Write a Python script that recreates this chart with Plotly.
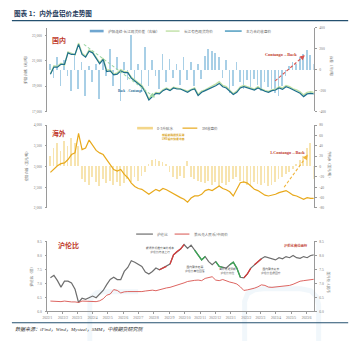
import pandas as pd
import plotly.graph_objects as go

W, H = 361, 344

# ---------------- data (weekly closes, Jan 2022 - Jun 2023) ----------------
WEEK_START = "2022-01-07"
N_WEEKS = 76

MONTH_LABELS = ["2022/1", "2022/2", "2022/3", "2022/4", "2022/5", "2022/6",
                "2022/7", "2022/8", "2022/9", "2022/10", "2022/11", "2022/12",
                "2023/1", "2023/2", "2023/3", "2023/4", "2023/5", "2023/6"]

# SHFE aluminium main contract close (CNY/t)
shfe_main = [19940, 20510, 20500, 20720, 20720, 21630, 21500, 21500, 22300, 21500,
             21290, 21760, 21630, 21190, 20770, 21110, 20150, 20200, 19890, 19940,
             20200, 20070, 20070, 19630, 19420, 19160, 18950, 18510, 17910, 18170,
             18430, 18380, 18640, 18770, 18640, 18850, 18770, 18770, 18640, 18510,
             18690, 18770, 18250, 18510, 18640, 18770, 18850, 19030, 19210, 18950,
             18850, 18590, 18330, 18510, 18850, 18950, 18850, 18770, 18690, 18850,
             18690, 18590, 18510, 18640, 18690, 18850, 18740, 18950, 18850, 18690,
             18590, 18430, 18170, 18380, 18430, 18380]

# Changjiang spot average (CNY/t)
cj_spot = [19980, 20600, 20560, 20800, 20650, 21700, 21580, 21450, 22400, 21600,
           21350, 21850, 21700, 21250, 20850, 21200, 20250, 20300, 19950, 20050,
           20300, 20150, 20100, 19700, 19500, 19250, 19050, 18600, 18000, 18250,
           18500, 18450, 18700, 18850, 18700, 18900, 18850, 18800, 18700, 18600,
           18750, 18850, 18350, 18600, 18700, 18850, 18950, 19150, 19350, 19050,
           18950, 18650, 18400, 18600, 18950, 19050, 18950, 18850, 18750, 18950,
           18750, 18650, 18580, 18700, 18750, 18950, 18850, 19050, 18950, 18780,
           18700, 18550, 18300, 18500, 18550, 18500]

# SHFE continuous minus third-month spread (CNY/t, right axis)
shfe_spread = [60, -80, 120, -150, 90, -60, -200, 150, -180, 80,
               -250, 40, -120, 60, -280, 100, -60, 200, -150, 120,
               -300, 80, -100, 330, -120, 60, -200, 220, -150, 90,
               -60, -180, 150, -120, 100, -80, 60, -140, 120, -100,
               80, -150, 60, -90, 130, 200, 180, 160, 120, -80,
               90, -220, -150, 80, -120, -180, -100, -160, -90, -140,
               -200, -120, -160, -180, -220, -250, -150, -60, 40, 80,
               60, 120, 150, 190, 140, 60]

# LME 3M aluminium close (USD/t)
lme_3m = [2860, 2940, 3020, 3070, 3090, 3170, 3290, 3330, 3800, 3410,
          3450, 3640, 3520, 3390, 3330, 3290, 3170, 3050, 2930, 2890,
          2930, 2810, 2730, 2600, 2520, 2470, 2450, 2390, 2330, 2390,
          2450, 2410, 2470, 2440, 2390, 2330, 2280, 2250, 2210, 2140,
          2240, 2290, 2290, 2330, 2420, 2450, 2420, 2470, 2530, 2470,
          2440, 2390, 2290, 2450, 2610, 2630, 2600, 2530, 2450, 2420,
          2370, 2310, 2290, 2310, 2330, 2370, 2390, 2420, 2370, 2310,
          2290, 2250, 2210, 2250, 2230, 2230]

# LME cash-3M spread (USD/t, right axis)
lme_spread = [20, 35, 45, 30, 50, 40, 55, 45, 40, -25,
              -30, -35, -20, -30, -38, -25, -32, -28, -35, -30,
              -38, -32, -25, -30, -20, -28, -18, -10, 5, 12,
              15, 10, 8, 5, -10, -20, -25, -18, -22, 10,
              -20, -25, -28, -30, -32, -28, -35, -30, -38, -32,
              -36, -30, -25, -20, -28, -32, -35, -38, -30, -34,
              -36, -32, -38, -35, -30, -25, -20, -15, -10, -5,
              5, 12, 20, 35, 45, -25]

# SHFE / LME price ratio
shfe_lme_ratio = [7.20, 7.29, 7.10, 6.87, 7.08, 7.08, 7.02, 6.79, 6.32, 6.47,
                  6.43, 6.49, 6.55, 6.49, 6.63, 6.75, 6.96, 7.14, 7.22, 7.14,
                  7.14, 7.43, 7.57, 7.81, 7.76, 7.67, 7.61, 7.41, 7.34, 7.43,
                  7.55, 7.49, 7.55, 7.61, 7.69, 8.02, 8.14, 8.23, 8.39, 8.25,
                  8.37, 8.19, 8.00, 7.84, 7.96, 7.78, 7.67, 7.78, 7.61, 7.57,
                  7.55, 7.67, 7.76, 7.55, 7.22, 7.20, 7.34, 7.55, 7.67, 7.78,
                  7.88, 7.96, 7.92, 7.90, 7.84, 7.92, 7.88, 7.96, 7.92, 8.00,
                  7.92, 7.90, 7.96, 7.92, 8.00, 8.02]

# USD/CNY central parity
usd_cny = [6.37, 6.36, 6.36, 6.35, 6.37, 6.35, 6.34, 6.34, 6.32, 6.37,
           6.36, 6.35, 6.34, 6.35, 6.38, 6.45, 6.58, 6.62, 6.78, 6.75,
           6.66, 6.70, 6.71, 6.71, 6.70, 6.71, 6.71, 6.73, 6.74, 6.76,
           6.74, 6.78, 6.80, 6.84, 6.86, 6.90, 6.92, 6.98, 7.02, 7.07,
           7.10, 7.11, 7.12, 7.10, 7.18, 7.20, 7.24, 7.12, 7.10, 7.14,
           7.09, 7.05, 7.02, 6.98, 6.88, 6.75, 6.77, 6.79, 6.83, 6.88,
           6.95, 6.93, 6.87, 6.86, 6.87, 6.88, 6.90, 6.92, 6.93, 6.97,
           7.02, 7.08, 7.10, 7.12, 7.13, 7.15]

# phases of the ratio: rising (red) and falling (green) stretches, by week index
RATIO_UP = [(31, 33), (34, 38), (55, 57), (58, 60)]
RATIO_DOWN = [(41, 44), (47, 49), (51, 54)]

weeks = pd.date_range(WEEK_START, periods=N_WEEKS, freq="W-FRI")
month_ticks = pd.date_range("2022-01-01", periods=len(MONTH_LABELS), freq="MS")
X_RANGE = ["2022-01-01", "2023-06-15"]
DAY_MS = 86400000


def px(x):
    return x / W


def py(y):
    return 1 - y / H


CJK = "Noto Sans CJK SC, Noto Sans, sans-serif"
TICK_FONT = dict(family="Liberation Serif, Noto Sans CJK SC", size=3.6, color="#777777")
AX_GRAY = "#9a9a9a"
RED = "#c0392b"

XD = [px(43), px(313)]
P1 = [py(111), py(26)]
P2 = [py(209), py(125)]
P3 = [py(314), py(243)]

fig = go.Figure()

# ---- panel 1: domestic ----
fig.add_trace(go.Bar(x=weeks, y=shfe_spread, xaxis="x", yaxis="y",
                     marker=dict(color="#a8cfe6", line=dict(width=0)),
                     width=1.3 * DAY_MS, name="沪铝连续-长江现货价差"))
fig.add_trace(go.Scatter(x=weeks, y=cj_spot, xaxis="x", yaxis="y2", mode="lines",
                         line=dict(color="#bfe0a4", width=1.4), name="长江有色现货均价"))
fig.add_trace(go.Scatter(x=weeks, y=shfe_main, xaxis="x", yaxis="y2", mode="lines",
                         line=dict(color="#1d6e8c", width=1.2), name="主力合约收盘价"))

# ---- panel 2: overseas ----
fig.add_trace(go.Bar(x=weeks, y=lme_spread, xaxis="x2", yaxis="y3",
                     marker=dict(color="#f7e4b0", line=dict(width=0)),
                     width=1.6 * DAY_MS, name="0-3升贴水"))
fig.add_trace(go.Scatter(x=weeks, y=lme_3m, xaxis="x2", yaxis="y4", mode="lines",
                         line=dict(color="#e8a91c", width=1.2), name="3M收盘价"))

# ---- panel 3: SHFE/LME ratio ----
fig.add_trace(go.Scatter(x=weeks, y=shfe_lme_ratio, xaxis="x3", yaxis="y5", mode="lines",
                         line=dict(color="#6e6e6e", width=1.2), name="沪伦比"))
for a, b in RATIO_UP:
    fig.add_trace(go.Scatter(x=weeks[a:b + 1], y=shfe_lme_ratio[a:b + 1], xaxis="x3",
                             yaxis="y5", mode="lines", line=dict(color="#d63b3b", width=1.3),
                             showlegend=False))
for a, b in RATIO_DOWN:
    fig.add_trace(go.Scatter(x=weeks[a:b + 1], y=shfe_lme_ratio[a:b + 1], xaxis="x3",
                             yaxis="y5", mode="lines", line=dict(color="#3aa655", width=1.3),
                             showlegend=False))
fig.add_trace(go.Scatter(x=weeks, y=usd_cny, xaxis="x3", yaxis="y6", mode="lines",
                         line=dict(color="#d9534f", width=0.9), name="美元兑人民币/中间价"))

common_x = dict(domain=XD, range=X_RANGE, type="date", showgrid=False, zeroline=False)
common_y = dict(showgrid=False, zeroline=False, showline=True, linecolor=AX_GRAY,
                linewidth=0.8, ticks="outside", ticklen=2, tickcolor=AX_GRAY,
                tickwidth=0.6, tickfont=TICK_FONT, ticklabelstandoff=2)


def fmt(v):
    return f"{v:,}"


P1_LEFT = [17000, 19000, 21000, 23000]
P1_RIGHT = [-400, -200, 0, 200, 400]
P2_LEFT = [2000, 2500, 3000, 3500, 4000]
P2_RIGHT = [-80, -60, -40, -20, 0, 20, 40, 60, 80]
P3_TICKS = [6.0, 6.5, 7.0, 7.5, 8.0, 8.5]

fig.update_layout(
    width=W, height=H, margin=dict(l=0, r=0, t=0, b=0),
    paper_bgcolor="white", plot_bgcolor="rgba(0,0,0,0)",
    showlegend=False, barmode="overlay", bargap=0,
    xaxis=dict(common_x, anchor="y", showticklabels=False, ticks=""),
    xaxis2=dict(common_x, anchor="y3", showticklabels=False, ticks=""),
    xaxis3=dict(common_x, anchor="y5", tickvals=month_ticks, ticktext=MONTH_LABELS,
                ticks="outside", ticklen=2, tickcolor=AX_GRAY, tickwidth=0.6,
                showline=True, linecolor=AX_GRAY, linewidth=0.8, tickfont=TICK_FONT),
    yaxis=dict(common_y, domain=P1, anchor="x", side="right", range=[-400, 400],
               tickvals=P1_RIGHT, ticktext=[str(v) for v in P1_RIGHT]),
    yaxis2=dict(common_y, overlaying="y", anchor="x", side="left",
                range=[17000, 23623], tickvals=P1_LEFT, ticktext=[fmt(v) for v in P1_LEFT]),
    yaxis3=dict(common_y, domain=P2, anchor="x2", side="right", range=[-80, 80],
                tickvals=P2_RIGHT, ticktext=[str(v) for v in P2_RIGHT]),
    yaxis4=dict(common_y, overlaying="y3", anchor="x2", side="left",
                range=[2000, 4000], tickvals=P2_LEFT, ticktext=[fmt(v) for v in P2_LEFT]),
    yaxis5=dict(common_y, domain=P3, anchor="x3", side="left", range=[6.0, 8.5],
                tickvals=P3_TICKS, ticktext=[f"{v:.1f}" for v in P3_TICKS]),
    yaxis6=dict(common_y, overlaying="y5", anchor="x3", side="right", range=[6.0, 8.5],
                tickvals=P3_TICKS, ticktext=[f"{v:.1f}" for v in P3_TICKS]),
)

shapes = []
annotations = []


def hline(x0, x1, y, color, width):
    shapes.append(dict(type="line", xref="paper", yref="paper", x0=px(x0), x1=px(x1),
                       y0=py(y), y1=py(y), line=dict(color=color, width=width)))


def dashed_arrow(x0, y0, x1, y1, color):
    shapes.append(dict(type="line", xref="paper", yref="paper", x0=px(x0), y0=py(y0),
                       x1=px(x1), y1=py(y1), line=dict(color=color, width=1.1, dash="3px,2px")))
    dx, dy = x1 - x0, y1 - y0
    n = (dx * dx + dy * dy) ** 0.5
    annotations.append(dict(xref="paper", yref="paper", x=px(x1), y=py(y1), text="",
                            showarrow=True, ax=-4 * dx / n, ay=-4 * dy / n,
                            arrowhead=2, arrowsize=0.9, arrowwidth=1.1, arrowcolor=color))


def text(x, y, s, size, color, bold=False, anchor="center", angle=0, family=CJK, style="normal"):
    annotations.append(dict(xref="paper", yref="paper", x=px(x), y=py(y), text=s,
                            showarrow=False, xanchor=anchor, yanchor="middle",
                            textangle=angle,
                            font=dict(family=family, size=size, color=color,
                                      weight="bold" if bold else "normal", style=style)))


def legend_item(x0, x1, y, color, width, label):
    shapes.append(dict(type="line", xref="paper", yref="paper", x0=px(x0), x1=px(x1),
                       y0=py(y), y1=py(y), line=dict(color=color, width=width)))
    text(x1 + 2.5, y, label, 3.6, "#666666", anchor="left")


def faint_path(points):
    # rounded logo strokes in the background, given in pixel coordinates
    d = "M " + " L ".join(f"{px(x):.4f},{py(y):.4f}" for x, y in points)
    shapes.append(dict(type="path", xref="paper", yref="paper", path=d, layer="below",
                       line=dict(color="rgba(214,232,244,0.35)", width=5)))


# background logo strokes
faint_path([(86, 344), (86, 306), (88, 299), (93, 295), (100, 294), (135, 294)])
faint_path([(243, 344), (243, 304), (246, 296), (253, 292), (262, 291), (300, 291),
            (310, 293), (316, 299), (318, 307), (318, 344)])

# title and rules
text(7, 11.5, "图表 1：内外盘铝价走势图", 6.6, "#1f3b5c", bold=True, anchor="left")
hline(7, 348, 19, "#24506f", 1.2)
hline(7, 348, 325.5, "#24506f", 1.2)

# panel labels
text(55, 38.5, "国内", 7, RED, bold=True)
text(55, 133, "海外", 6.8, RED, bold=True)
text(64, 246.5, "沪伦比", 7, RED, bold=True)

# legends
legend_item(86, 100, 29.5, "#6fa6d0", 2.6, "沪铝连续-长江现货价差（右轴）")
legend_item(163, 177, 29.5, "#bfe0a4", 1.4, "长江有色现货均价")
legend_item(223, 240, 29.5, "#5aa3c4", 1.6, "主力合约收盘价")
legend_item(134, 150, 128, "#f3d68a", 2.6, "0-3升贴水")
legend_item(180, 195, 128, "#e8a91c", 1.2, "3M收盘价")
legend_item(133, 150, 235.5, "#6e6e6e", 1.2, "沪伦比")
legend_item(172, 187, 235.5, "#d9534f", 1.0, "美元兑人民币/中间价")

# axis titles
text(20, 68, "沪铝价格（元/吨）", 3.6, "#666666", angle=-90)
text(332, 66, "价差（元/吨）", 3.6, "#666666", angle=90)
text(22, 166, "伦铝价格（美元/吨）", 3.4, "#666666", angle=-90)
text(329, 166, "升贴水（美元/吨）", 3.4, "#666666", angle=90)
text(27, 278, "沪伦比（倍）", 3.6, "#666666", angle=-90)
text(328, 285, "美元兑人民币", 3.6, "#666666", angle=90)

# trend marks
dashed_arrow(80, 43, 152, 97, "#9ad6a2")
dashed_arrow(274, 80, 304, 54, "#d9534f")
dashed_arrow(283, 188, 307, 155, "#f0b43a")

text(127, 90, "Back→Contango", 3.3, "#1f6f9a", bold=True, family="Liberation Serif")
text(280, 53.5, "Contango→Back", 4.3, RED, bold=True, family="Liberation Serif")
text(286, 153, "1.Contango→Back", 4.3, RED, bold=True, family="Liberation Serif")
text(171, 137, "俄铝制裁担忧发酵<br>LME铝价快速冲高", 2.8, "#d9a31a", bold=True)

text(157, 252, "能源危机推升海外成本<br>沪伦比持续上行", 2.8, "#555555")
text(193, 270.5, "国内需求走弱<br>沪伦比高位回落", 2.8, "#555555")
text(226, 272.5, "海外衰退预期<br>沪伦比低位", 2.8, "#555555")
text(270, 272.5, "国内需求复苏<br>沪伦比企稳回升", 2.8, "#555555")
text(295, 247, "沪伦比高位运行", 3.3, RED, bold=True)

# source line
text(8, 332, "数据来源：iFind，Wind，Mysteel，SMM，中粮期货研究院", 5, "#333333",
     anchor="left", family="Liberation Serif, Noto Sans CJK SC", style="italic")

fig.update_layout(shapes=shapes, annotations=annotations)
fig.write_html("out.html")
